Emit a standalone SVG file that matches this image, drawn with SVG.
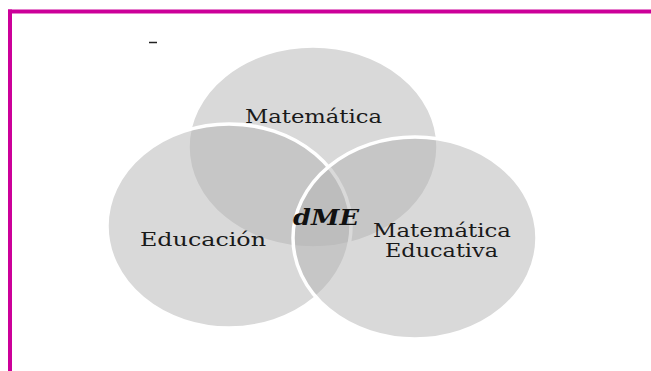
<svg xmlns="http://www.w3.org/2000/svg" width="651" height="371" viewBox="0 0 651 371">
  <style>
    .set { fill: #b3b3b3; fill-opacity: 0.5; stroke: #ffffff; stroke-width: 3.5; }
    .lbl { font-family: "DejaVu Serif", "Liberation Serif", serif; font-size: 18.5px; fill: #1a1a1a; text-anchor: middle; }
    .core { font-family: "DejaVu Serif", "Liberation Serif", serif; font-size: 22px; font-weight: bold; font-style: italic; fill: #111111; text-anchor: middle; }
  </style>
  <rect width="651" height="371" fill="#ffffff"/>
  <g id="frame">
    <rect x="8" y="9.5" width="643" height="4" fill="#cc0099"/>
    <rect x="8" y="9.5" width="4" height="361.5" fill="#cc0099"/>
    <line x1="149" y1="42.5" x2="157" y2="42.5" stroke="#222222" stroke-width="1.5"/>
  </g>
  <g id="matematica">
    <ellipse class="set" cx="313" cy="147" rx="125" ry="101"/>
  </g>
  <g id="educacion">
    <ellipse class="set" cx="229" cy="226" rx="122" ry="102"/>
  </g>
  <g id="matematica-educativa">
    <ellipse class="set" cx="415" cy="238" rx="122" ry="101"/>
  </g>
  <g id="labels">
    <text class="lbl" x="313.5" y="123" textLength="137" lengthAdjust="spacingAndGlyphs">Matemática</text>
    <text class="lbl" x="203" y="246" textLength="126" lengthAdjust="spacingAndGlyphs">Educación</text>
    <text class="lbl" x="442" y="237" textLength="138" lengthAdjust="spacingAndGlyphs">Matemática</text>
    <text class="lbl" x="441.5" y="257" textLength="113" lengthAdjust="spacingAndGlyphs">Educativa</text>
    <text class="core" x="326" y="225" textLength="66" lengthAdjust="spacingAndGlyphs">dME</text>
  </g>
</svg>
